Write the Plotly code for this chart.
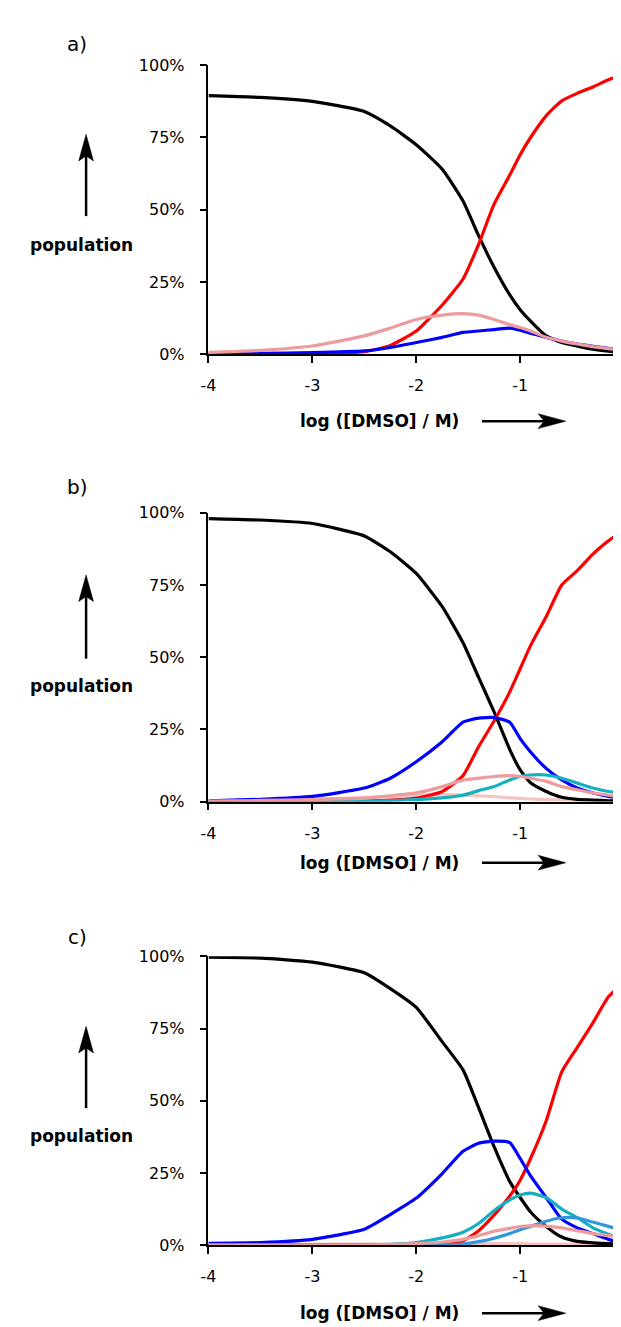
import plotly.graph_objects as go

W, H = 621, 1327

X = [-4, -3.5, -3, -2.5, -2.25, -2, -1.75, -1.55, -1.4, -1.25, -1.1, -1, -0.9, -0.75, -0.6, -0.45, -0.3, -0.15, 0]
X_TICKS = [-4, -3, -2, -1, 0]
X_TICKTEXT = ["-4", "-3", "-2", "-1", "0"]
Y_TICKS = [0, 25, 50, 75, 100]
Y_TICKTEXT = ["0%", "25%", "50%", "75%", "100%"]
PANEL_LABELS = ["a)", "b)", "c)"]
X_TITLE = "log ([DMSO] / M)"
Y_TITLE = "population"

# panel a
a_black = [89.5, 88.9, 87.5, 84, 79, 72.5, 64, 53, 41, 30, 20.5, 15.4, 11.4, 6.3, 4, 2.8, 1.7, 1, 0.5]
a_red = [0, 0, 0.1, 0.8, 3, 8, 17, 26, 38, 52, 62, 69, 75, 82.5, 87.7, 90.3, 92.5, 95, 97]
a_blue = [0.2, 0.3, 0.5, 1.1, 2.3, 4, 5.8, 7.5, 8, 8.5, 9, 8.3, 7.2, 5.8, 4.5, 3.5, 2.7, 2, 1.5]
a_pink = [0.6, 1.3, 2.8, 6.3, 9, 12, 13.5, 14, 13.5, 12, 10.2, 9.2, 8, 5.8, 4.5, 3.5, 2.6, 1.9, 1.3]

# panel b
b_black = [98, 97.5, 96.3, 92, 86.5, 79, 67.5, 55, 43, 31, 18, 11, 6.5, 3.5, 1.5, 0.8, 0.5, 0.3, 0.2]
b_red = [0, 0, 0, 0.2, 0.5, 1.2, 3.5, 9, 19, 28, 38, 46, 54, 64, 75, 80, 85.7, 90.3, 94.3]
b_blue = [0.3, 0.8, 1.8, 4.7, 8.1, 13.8, 20.7, 27.5, 28.9, 29.1, 27.5, 21.8, 17.2, 11.5, 7.5, 4.7, 3, 1.8, 1]
b_teal = [0, 0, 0, 0.1, 0.3, 0.7, 1.3, 2.2, 3.8, 5.2, 7.5, 8.7, 9.2, 9.2, 8.1, 6.4, 4.7, 3.5, 3]
b_pink = [0.2, 0.4, 0.7, 1.2, 2, 3, 5.2, 7.5, 8.1, 8.7, 9, 8.7, 8.1, 7, 5.2, 4.1, 3, 2.2, 1.5]
b_lpink = [0.2, 0.4, 0.8, 1.4, 1.8, 2.2, 2.4, 2.3, 2.0, 1.7, 1.3, 1.1, 0.9, 0.7, 0.5, 0.4, 0.3, 0.2, 0.2]

# panel c
c_black = [99.7, 99.4, 98, 94.3, 88.8, 82.3, 70.4, 60.7, 47.6, 34, 22, 16.5, 11.5, 6.5, 2.8, 1.3, 0.8, 0.5, 0.3]
c_red = [0, 0, 0, 0, 0, 0, 0.3, 1.5, 5, 10.5, 17, 22.5, 30, 43, 60, 68.5, 77, 86, 91]
c_blue = [0.6, 0.9, 2, 5.5, 10.6, 16.3, 24.8, 32.5, 35.3, 36, 35.5, 30, 24, 16.5, 9, 6, 4, 2, 0.4]
c_teal = [0, 0, 0, 0.1, 0.3, 0.9, 2.5, 4.5, 7.5, 12, 15.7, 17.4, 18, 16.5, 12.5, 9.5, 6, 3.8, 2]
c_steel = [0, 0, 0, 0, 0, 0, 0.1, 0.4, 1.2, 2.4, 4, 5.3, 6.5, 8.3, 9.5, 9.4, 8, 6.5, 4.9]
c_pink = [0, 0, 0, 0, 0.2, 0.5, 1.1, 2, 3.3, 4.8, 5.8, 6.4, 6.7, 6.6, 6, 5, 4, 3.3, 2.6]
c_lpink = [0.2, 0.3, 0.3, 0.4, 0.4, 0.5, 0.5, 0.5, 0.5, 0.5, 0.5, 0.5, 0.4, 0.4, 0.3, 0.3, 0.3, 0.2, 0.2]
c_lblue = [0, 0, 0, 0, 0, 0, 0, 0, 0, 0, 0, 0, 0, 0, 0, 0, 0, 0, 0]

BLACK = "#000000"
RED = "#ff0000"
BLUE = "#0000ff"
PINK = "#ec9c9c"
LPINK = "#f4c4c4"
TEAL = "#14b0c2"
STEEL = "#3296d8"
LBLUE = "#9cc3ea"

panels = [
    [(a_black, BLACK), (a_red, RED), (a_blue, BLUE), (a_pink, PINK)],
    [(b_lpink, LPINK), (b_black, BLACK), (b_red, RED), (b_blue, BLUE), (b_teal, TEAL), (b_pink, PINK)],
    [(c_lblue, LBLUE), (c_lpink, LPINK), (c_black, BLACK), (c_red, RED), (c_blue, BLUE), (c_teal, TEAL),
     (c_steel, STEEL), (c_pink, PINK)],
]

# pixel geometry per panel
PLOT_TOP = [49, 503, 953]
PLOT_BOT = [342, 796, 1246]
X_LEFT, X_RIGHT = 195, 616
LABEL_Y = [27, 477, 933]
POP_Y = [231, 679, 1135]
ARROW_TIP = [119, 566, 1024]
ARROW_BOT = [202, 651, 1107]
TITLE_Y = [410, 858, 1315]

TICK_FONT = dict(family="DejaVu Sans", size=16, color="black")


def px(x):
    return x / W


def py(y):
    return 1 - y / H


fig = go.Figure()
layout = dict(
    width=W, height=H, margin=dict(l=0, r=0, t=0, b=0),
    paper_bgcolor="white", plot_bgcolor="white", showlegend=False,
    font=dict(family="DejaVu Sans", size=16, color="black"),
)
shapes = []
annotations = []

for i, series in enumerate(panels):
    n = "" if i == 0 else str(i + 1)
    for vals, col in series:
        fig.add_trace(go.Scatter(
            x=X, y=vals, mode="lines", xaxis="x" + n, yaxis="y" + n,
            line=dict(color=col, width=3.2, shape="spline", smoothing=0.5),
            hoverinfo="skip",
        ))
    # the last tick label sits at the figure edge: drawn right-aligned below
    axis_text = X_TICKTEXT[:-1] + [""]
    layout["xaxis" + n] = dict(
        domain=[px(X_LEFT), px(X_RIGHT)], range=[-4, 0], anchor="y" + n,
        tickvals=X_TICKS, ticktext=axis_text, ticks="outside", ticklen=7,
        tickwidth=1.5, tickcolor="black", showline=True, linecolor="black",
        linewidth=1.5, showgrid=False, zeroline=False, ticklabelstandoff=9,
        tickfont=TICK_FONT,
    )
    layout["yaxis" + n] = dict(
        domain=[py(PLOT_BOT[i]), py(PLOT_TOP[i])], range=[0, 100], anchor="x" + n,
        tickvals=Y_TICKS, ticktext=Y_TICKTEXT, ticks="outside", ticklen=7,
        tickwidth=1.5, tickcolor="black", showline=True, linecolor="black",
        linewidth=1.5, showgrid=False, zeroline=False, ticklabelstandoff=12,
        tickfont=TICK_FONT,
    )
    annotations.append(dict(text=X_TICKTEXT[-1], x=px(617), xref="paper", xanchor="right",
                            y=py(PLOT_BOT[i]), yref="paper", yanchor="middle", yshift=-23,
                            showarrow=False, font=TICK_FONT))
    annotations.append(dict(text=PANEL_LABELS[i], x=px(62), y=py(LABEL_Y[i]), xref="paper", yref="paper",
                            showarrow=False, xanchor="center", yanchor="middle",
                            font=dict(family="DejaVu Sans", size=20, color="black")))
    annotations.append(dict(text="<b>" + Y_TITLE + "</b>", x=px(66), y=py(POP_Y[i]), xref="paper", yref="paper",
                            showarrow=False, xanchor="center", yanchor="middle",
                            font=dict(family="DejaVu Sans", size=17, color="black")))
    annotations.append(dict(text="<b>" + X_TITLE + "</b>", x=px(368), y=py(TITLE_Y[i]), xref="paper", yref="paper",
                            showarrow=False, xanchor="center", yanchor="middle",
                            font=dict(family="DejaVu Sans", size=17, color="black")))
    # up arrow
    ax = 71
    tip = ARROW_TIP[i]
    shapes.append(dict(type="line", xref="paper", yref="paper", x0=px(ax), x1=px(ax),
                       y0=py(ARROW_BOT[i]), y1=py(tip + 22), line=dict(color="black", width=2.5)))
    shapes.append(dict(type="path", xref="paper", yref="paper",
                       path=f"M {px(ax)},{py(tip)} L {px(ax - 7.5)},{py(tip + 27)} L {px(ax)},{py(tip + 22)} "
                            f"L {px(ax + 7.5)},{py(tip + 27)} Z",
                       fillcolor="black", line=dict(color="black", width=0.5)))
    # right arrow
    ty = TITLE_Y[i]
    shapes.append(dict(type="line", xref="paper", yref="paper", x0=px(472), x1=px(536),
                       y0=py(ty), y1=py(ty), line=dict(color="black", width=2.5)))
    shapes.append(dict(type="path", xref="paper", yref="paper",
                       path=f"M {px(557)},{py(ty)} L {px(529)},{py(ty - 7.5)} L {px(535)},{py(ty)} "
                            f"L {px(529)},{py(ty + 7.5)} Z",
                       fillcolor="black", line=dict(color="black", width=0.5)))

layout["shapes"] = shapes
layout["annotations"] = annotations
fig.update_layout(**layout)
fig.write_html("out.html")
